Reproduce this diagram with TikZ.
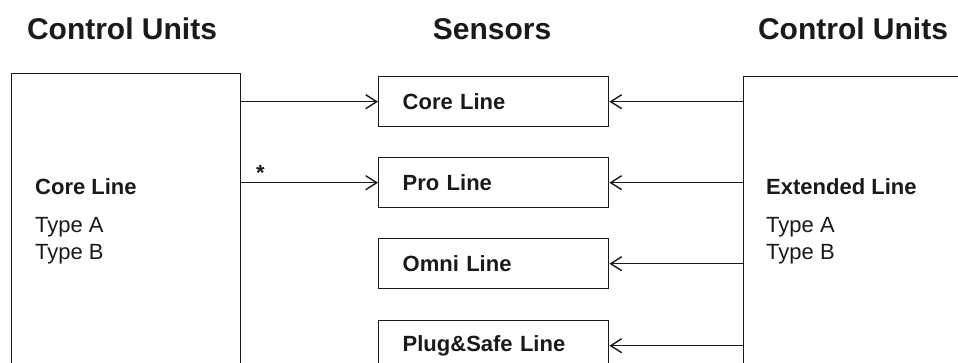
\documentclass[tikz,border=0pt]{standalone}
\usepackage{fontspec}
\setmainfont{Liberation Sans}
\usetikzlibrary{arrows.meta}
\definecolor{ink}{HTML}{1A1A1A}
\begin{document}
\begin{tikzpicture}[x=1pt,y=-1pt,
  every node/.style={text=ink},
  title/.style={font=\fontsize{30}{36}\selectfont\bfseries, anchor=base, inner sep=0pt},
  head/.style={font=\fontsize{22}{26}\selectfont\bfseries, anchor=base west, inner sep=0pt},
  item/.style={font=\fontsize{22}{26}\selectfont, anchor=base west, inner sep=0pt},
  unitbox/.style={draw=ink, line width=1.4pt, anchor=north west, inner sep=0pt, minimum width=229pt, minimum height=340pt},
  sensor/.style={draw=ink, line width=1.4pt, anchor=north west, minimum width=230pt, minimum height=50pt,
    text width=182pt, inner xsep=24pt, inner ysep=0pt, align=left, font=\fontsize{22}{26}\selectfont\bfseries},
  conn/.style={draw=ink, line width=1.4pt, -{Straight Barb[length=11pt, width=14pt, line width=1.4pt]}}
]
\useasboundingbox (0,0) rectangle (958,363);
\clip (0,0) rectangle (958,363);
\fill[white] (0,0) rectangle (958,363);

\node[title] (tl) at (122,40) {Control Units};
\node[title] (tm) at (492,40) {Sensors};
\node[title] (tr) at (853,40) {Control Units};

\node[unitbox] (lbox) at (11,73) {};
\node[unitbox, minimum width=260pt] (rbox) at (743,76) {};

\node[head] (lh) at (35,195) {Core Line};
\node[item] (la) at (35,233) {Type A};
\node[item] (lb) at (35,260) {Type B};

\node[head] (rh) at (766,195) {Extended Line};
\node[item] (ra) at (766,233) {Type A};
\node[item] (rb) at (766,260) {Type B};

\node[sensor] (core) at (378,76) {Core Line};
\node[sensor] (pro) at (378,157) {Pro Line};
\node[sensor] (omni) at (378,238) {Omni Line};
\node[sensor] (plug) at (378,320) {Plug\&Safe Line};

\draw[conn] (lbox.east |- core.west) -- (core.west);
\draw[conn] (lbox.east |- pro.west) -- node[pos=0.14, above=0pt, inner sep=1pt, font=\fontsize{22}{24}\selectfont\bfseries] (star) {*} (pro.west);

\draw[conn] (rbox.west |- core.east) -- (core.east);
\draw[conn] (rbox.west |- pro.east) -- (pro.east);
\draw[conn] (rbox.west |- omni.east) -- (omni.east);
\draw[conn] (rbox.west |- plug.east) -- (plug.east);
\end{tikzpicture}
\end{document}
